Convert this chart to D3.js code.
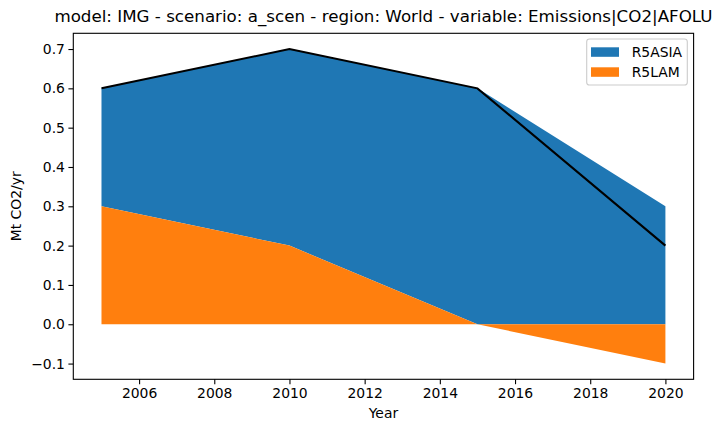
<!DOCTYPE html>
<html>
<head>
<meta charset="utf-8">
<script src="https://cdn.jsdelivr.net/npm/d3@7"></script>
<style>
  body { margin: 0; background: #fff; }
  svg { display: block; font-family: "DejaVu Sans", sans-serif; }
</style>
</head>
<body>
<svg id="chart" width="720" height="432"></svg>
<script>
// ---- data ----
const years = [2005, 2010, 2015, 2020];
const seriesNames = ["R5ASIA", "R5LAM"];
const r5asia = [0.3, 0.5, 0.6, 0.3];
const r5lam = [0.3, 0.2, 0.0, -0.1];
const totalWorld = [0.6, 0.7, 0.6, 0.2];
const colors = ["#1f77b4", "#ff7f0e"];
const xTicks = [2006, 2008, 2010, 2012, 2014, 2016, 2018, 2020];
const yTicks = [-0.1, 0.0, 0.1, 0.2, 0.3, 0.4, 0.5, 0.6, 0.7];
const titleText = "model: IMG - scenario: a_scen - region: World - variable: Emissions|CO2|AFOLU";
const xLabel = "Year";
const yLabel = "Mt CO2/yr";

// ---- layout ----
const L = 73.3, R = 693.6, T = 33.3, B = 379.3;
const svg = d3.select("#chart");

const x = d3.scaleLinear().domain([2004.25, 2020.75]).range([L, R]);
const y = d3.scaleLinear().domain([-0.14, 0.74]).range([B, T]);

// stacked: R5LAM bottom layer (pos/neg separated), R5ASIA on top of positive part
const rows = years.map((yr, i) => {
  const lam = r5lam[i], asia = r5asia[i];
  const lamPosBase = 0;
  const lamLo = Math.min(0, lam), lamHi = Math.max(0, lam);
  const posTop = Math.max(0, lam);
  const negBot = Math.min(0, lam);
  const asiaLo = asia >= 0 ? posTop : negBot + asia;
  const asiaHi = asia >= 0 ? posTop + asia : negBot;
  return { yr, lamLo, lamHi, asiaLo, asiaHi };
});

const areaAsia = d3.area().x(d => x(d.yr)).y0(d => y(d.asiaLo)).y1(d => y(d.asiaHi));
const areaLam = d3.area().x(d => x(d.yr)).y0(d => y(d.lamLo)).y1(d => y(d.lamHi));

svg.append("path").datum(rows).attr("d", areaAsia).attr("fill", colors[0]);
svg.append("path").datum(rows).attr("d", areaLam).attr("fill", colors[1]);

// total line
const line = d3.line().x((d, i) => x(years[i])).y(d => y(d));
svg.append("path").datum(totalWorld).attr("d", line)
  .attr("fill", "none").attr("stroke", "#000").attr("stroke-width", 2.08);

// axes
const fontSize = "13.9px";
const xAxis = svg.append("g").attr("transform", `translate(0,${B})`)
  .call(d3.axisBottom(x).tickValues(xTicks).tickFormat(d3.format("d")).tickSize(4.9).tickPadding(3.5));
const yAxis = svg.append("g").attr("transform", `translate(${L},0)`)
  .call(d3.axisLeft(y).tickValues(yTicks).tickFormat(d => d3.format(".1f")(d).replace("-", "\u2212")).tickSize(4.9).tickPadding(3.5));
[xAxis, yAxis].forEach(g => {
  g.select(".domain").remove();
  g.selectAll("line").attr("stroke", "#000").attr("stroke-width", 1.1);
  g.selectAll("text").attr("font-size", fontSize).attr("fill", "#000")
    .attr("font-family", "DejaVu Sans, sans-serif");
});

// frame
svg.append("rect").attr("x", L).attr("y", T).attr("width", R - L).attr("height", B - T)
  .attr("fill", "none").attr("stroke", "#000").attr("stroke-width", 1.1);

// title and labels
svg.append("text").attr("x", (L + R) / 2).attr("y", 22).attr("text-anchor", "middle")
  .attr("font-size", "16.7px").attr("fill", "#000").text(titleText);
svg.append("text").attr("x", (L + R) / 2).attr("y", 418).attr("text-anchor", "middle")
  .attr("font-size", fontSize).attr("fill", "#000").text(xLabel);
svg.append("text").attr("transform", `translate(21,${(T + B) / 2}) rotate(-90)`)
  .attr("text-anchor", "middle").attr("font-size", fontSize).attr("fill", "#000").text(yLabel);

// legend
const lg = svg.append("g");
lg.append("rect").attr("x", 586.7).attr("y", 39).attr("width", 100.6).attr("height", 46)
  .attr("rx", 2.8).attr("fill", "#fff").attr("fill-opacity", 0.8)
  .attr("stroke", "#cccccc").attr("stroke-width", 1.1);
seriesNames.forEach((name, i) => {
  const yy = 47.3 + i * 20;
  lg.append("rect").attr("x", 591).attr("y", yy).attr("width", 28).attr("height", 9.5).attr("fill", colors[i]);
  lg.append("text").attr("x", 631.7).attr("y", yy + 9.5).attr("font-size", fontSize)
    .attr("fill", "#000").text(name);
});
</script>
</body>
</html>
